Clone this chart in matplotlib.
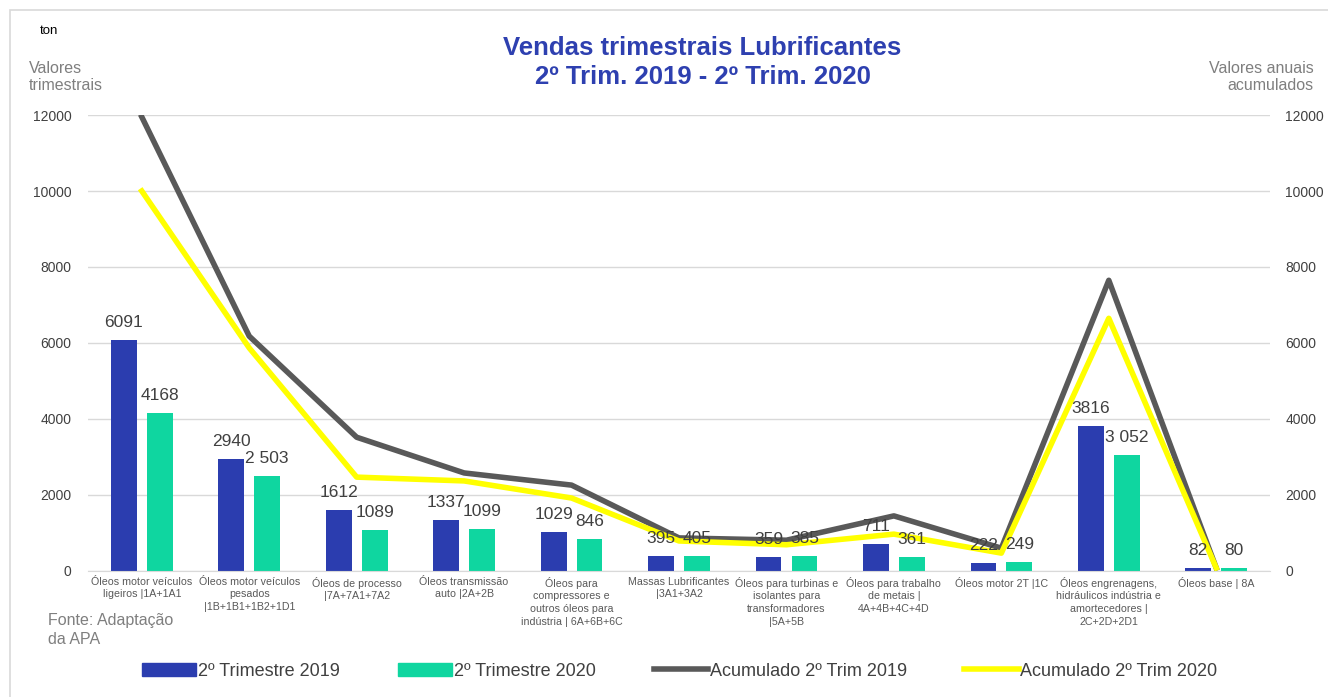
import numpy as np
import matplotlib.pyplot as plt
from matplotlib.patches import Rectangle, Patch
from matplotlib.lines import Line2D

plt.rcParams['font.family'] = ['Liberation Sans', 'DejaVu Sans']

categorias = ['Óleos motor veículos\nligeiros |1A+1A1',
              'Óleos motor veículos\npesados\n|1B+1B1+1B2+1D1',
              'Óleos de processo\n|7A+7A1+7A2',
              'Óleos transmissão\nauto |2A+2B',
              'Óleos para\ncompressores e\noutros óleos para\nindústria | 6A+6B+6C',
              'Massas Lubrificantes\n|3A1+3A2',
              'Óleos para turbinas e\nisolantes para\ntransformadores\n|5A+5B',
              'Óleos para trabalho\nde metais |\n4A+4B+4C+4D',
              'Óleos motor 2T |1C',
              'Óleos engrenagens,\nhidráulicos indústria e\namortecedores |\n2C+2D+2D1',
              'Óleos base | 8A']
trim_2019 = [6091, 2940, 1612, 1337, 1029, 395, 359, 711, 222, 3816, 82]
trim_2020 = [4168, 2503, 1089, 1099, 846, 405, 385, 361, 249, 3052, 80]
rotulos_2019 = ['6091', '2940', '1612', '1337', '1029', '395', '359', '711', '222', '3816', '82']
rotulos_2020 = ['4168', '2 503', '1089', '1099', '846', '405', '385', '361', '249', '3 052', '80']
acum_2019 = [11950, 6180, 3520, 2580, 2260, 870, 810, 1450, 600, 7650, 80]
acum_2020 = [10000, 5870, 2470, 2370, 1920, 790, 690, 970, 470, 6650, 80]

azul = '#2B3DAF'
verde = '#0FD6A0'
cinza = '#595959'
amarelo = '#FFFF00'

fig = plt.figure(figsize=(13.28, 6.97), dpi=100)
ax = fig.add_axes([0.0663, 0.1808, 0.89, 0.6542])

x = np.arange(len(categorias))
w = 0.24
ax.bar(x - 0.167, trim_2019, width=w, color=azul, zorder=2)
ax.bar(x + 0.167, trim_2020, width=w, color=verde, zorder=2)
ax.plot(x, acum_2019, color=cinza, lw=4, zorder=3)
ax.plot(x, acum_2020, color=amarelo, lw=4, zorder=3)

for i in range(len(x)):
    ax.text(x[i] - 0.167, trim_2019[i] + 260, rotulos_2019[i], ha='center', va='bottom',
            fontsize=12.5, color='#404040', zorder=5)
    ax.text(x[i] + 0.167, trim_2020[i] + 260, rotulos_2020[i], ha='center', va='bottom',
            fontsize=12.5, color='#404040', zorder=5)

ax.set_xlim(-0.5, len(x) - 0.5)
ax.set_ylim(0, 12000)
ax.set_yticks(range(0, 12001, 2000))
ax.grid(axis='y', color='#D9D9D9', lw=1)
ax.set_axisbelow(True)
for s in ['top', 'right', 'left']:
    ax.spines[s].set_visible(False)
ax.spines['bottom'].set_color('#D9D9D9')
ax.set_xticks(x)
ax.set_xticklabels(categorias, fontsize=7.7, color='#595959', linespacing=1.35)
ax.tick_params(axis='x', length=0, pad=4)
ax.tick_params(axis='y', length=0, labelsize=10, labelcolor='#404040', pad=12)

ax2 = ax.twinx()
ax2.set_ylim(0, 12000)
ax2.set_yticks(range(0, 12001, 2000))
for s in ['top', 'right', 'left', 'bottom']:
    ax2.spines[s].set_visible(False)
ax2.tick_params(axis='y', length=0, labelsize=10, labelcolor='#404040', pad=11)

fig.text(0.529, 0.910, 'Vendas trimestrais Lubrificantes\n2º Trim. 2019 - 2º Trim. 2020',
         ha='center', va='center', fontsize=18.5, fontweight='bold', color='#2E40B0',
         linespacing=1.25)
fig.text(0.030, 0.955, 'ton', fontsize=9.5, color='black', va='center')
fig.text(0.022, 0.890, 'Valores\ntrimestrais', fontsize=11.5, color='#7F7F7F', va='center',
         linespacing=1.15)
fig.text(0.989, 0.890, 'Valores anuais\nacumulados', fontsize=11.5, color='#7F7F7F', va='center',
         ha='right', linespacing=1.15)
fig.text(0.036, 0.096, 'Fonte: Adaptação\nda APA', fontsize=11.5, color='#7F7F7F', va='center',
         linespacing=1.3)

handles = [Patch(color=azul), Patch(color=verde),
           Line2D([], [], color=cinza, lw=4), Line2D([], [], color=amarelo, lw=4)]
labels = ['2º Trimestre 2019', '2º Trimestre 2020', 'Acumulado 2º Trim 2019', 'Acumulado 2º Trim 2020']
fig.legend(handles, labels, loc='center', bbox_to_anchor=(0.512, 0.037), ncol=4, frameon=False,
           fontsize=13, handlelength=3.0, handletextpad=0.1, columnspacing=3.2,
           labelcolor='#404040')

fig.patches.append(Rectangle((0.0075, -0.01), 1.0, 0.995, transform=fig.transFigure,
                             fill=False, edgecolor='#D9D9D9', lw=1.2))

fig.savefig('out.png', dpi=100)
